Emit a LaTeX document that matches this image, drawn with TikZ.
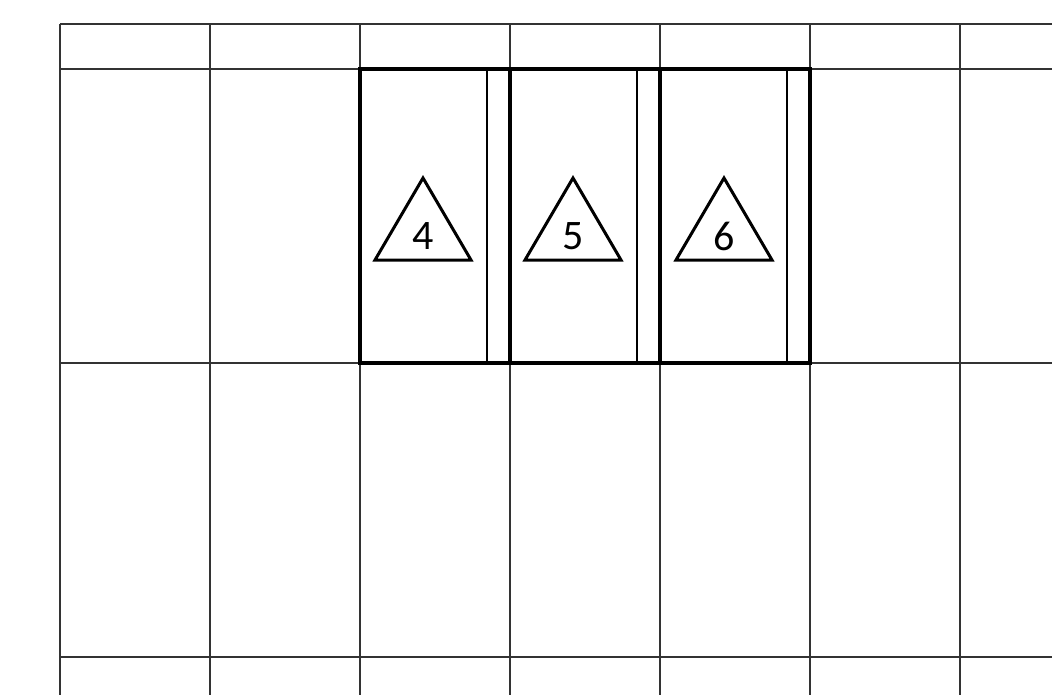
\documentclass[tikz,border=0pt]{standalone}
\usepackage{fontspec}
\setmainfont{Carlito}
\begin{document}
\begin{tikzpicture}[x=1pt,y=-1pt,
  gridline/.style={line width=1.1pt,black!80},
  thickline/.style={line width=4pt,black},
  thinline/.style={line width=1.4pt,black},
  tri/.style={line width=3pt,black,line join=miter},
  num/.style={font=\fontsize{42}{42}\selectfont,inner sep=0pt}]
\useasboundingbox (0,0) rectangle (1052,695);
% grid
\foreach \x in {60,210,360,510,660,810,960} \draw[gridline] (\x,24) -- (\x,695);
\foreach \y in {24,69,363,657} \draw[gridline] (60,\y) -- (1052,\y);
% inner thin lines
\foreach \x in {487,637,787} \draw[thinline] (\x,69) -- (\x,363);
% thick frames
\draw[thickline] (360,69) rectangle (810,363);
\draw[thickline] (510,69) -- (510,363);
\draw[thickline] (660,69) -- (660,363);
% triangles
\foreach \c/\n in {423/4,573/5,724/6}{
  \draw[tri] (\c,178) -- (\c+48,260) -- (\c-48,260) -- cycle;
  \node[num] (t\n) at (\c,236) {\n};
}
\end{tikzpicture}
\end{document}
